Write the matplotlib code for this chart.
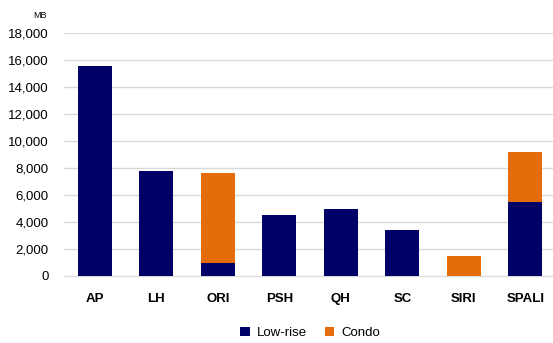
import matplotlib
matplotlib.use("Agg")
import matplotlib.pyplot as plt
import numpy as np

plt.rcParams['font.family'] = ['Liberation Sans', 'DejaVu Sans']

companies = ["AP", "LH", "ORI", "PSH", "QH", "SC", "SIRI", "SPALI"]
low_rise = [15550, 7800, 1000, 4500, 4950, 3400, 0, 5500]
condo = [0, 0, 6650, 0, 0, 0, 1500, 3700]

navy = "#000066"
orange = "#E46C0A"

fig = plt.figure(figsize=(5.53, 3.43), dpi=100)
ax = fig.add_axes([64/553, 1-276/343, (553-64)/553, (276-33)/343])

x = np.arange(len(companies))
ax.bar(x, low_rise, width=0.55, color=navy, label="Low-rise", zorder=3)
ax.bar(x, condo, width=0.55, bottom=low_rise, color=orange, label="Condo", zorder=3)

ax.set_ylim(0, 18000)
ax.set_xlim(-0.5, 7.45)
ax.set_yticks(np.arange(0, 18001, 2000))
ax.set_yticklabels([f"{v:,}" for v in range(0, 18001, 2000)], fontsize=9.5)
ax.set_xticks(x)
ax.set_xticklabels(companies, fontsize=9.5, fontweight="bold")
ax.yaxis.grid(True, color="#D9D9D9", linewidth=1, zorder=0)
for s in ["top", "right", "left"]:
    ax.spines[s].set_visible(False)
ax.spines["bottom"].set_color("#D9D9D9")
ax.tick_params(axis="both", length=0)
ax.tick_params(axis="y", pad=11)
ax.tick_params(axis="x", pad=12)

fig.text(33/553, 1-15/343, "MB", fontsize=6.5, ha="left", va="center")

ax.legend(loc="center", bbox_to_anchor=(310/553, 1-333/343), bbox_transform=fig.transFigure,
          ncol=2, frameon=False, fontsize=9.5, handlelength=0.75, handleheight=0.75,
          columnspacing=1.35, handletextpad=0.5)

fig.savefig("out.png", dpi=100)
